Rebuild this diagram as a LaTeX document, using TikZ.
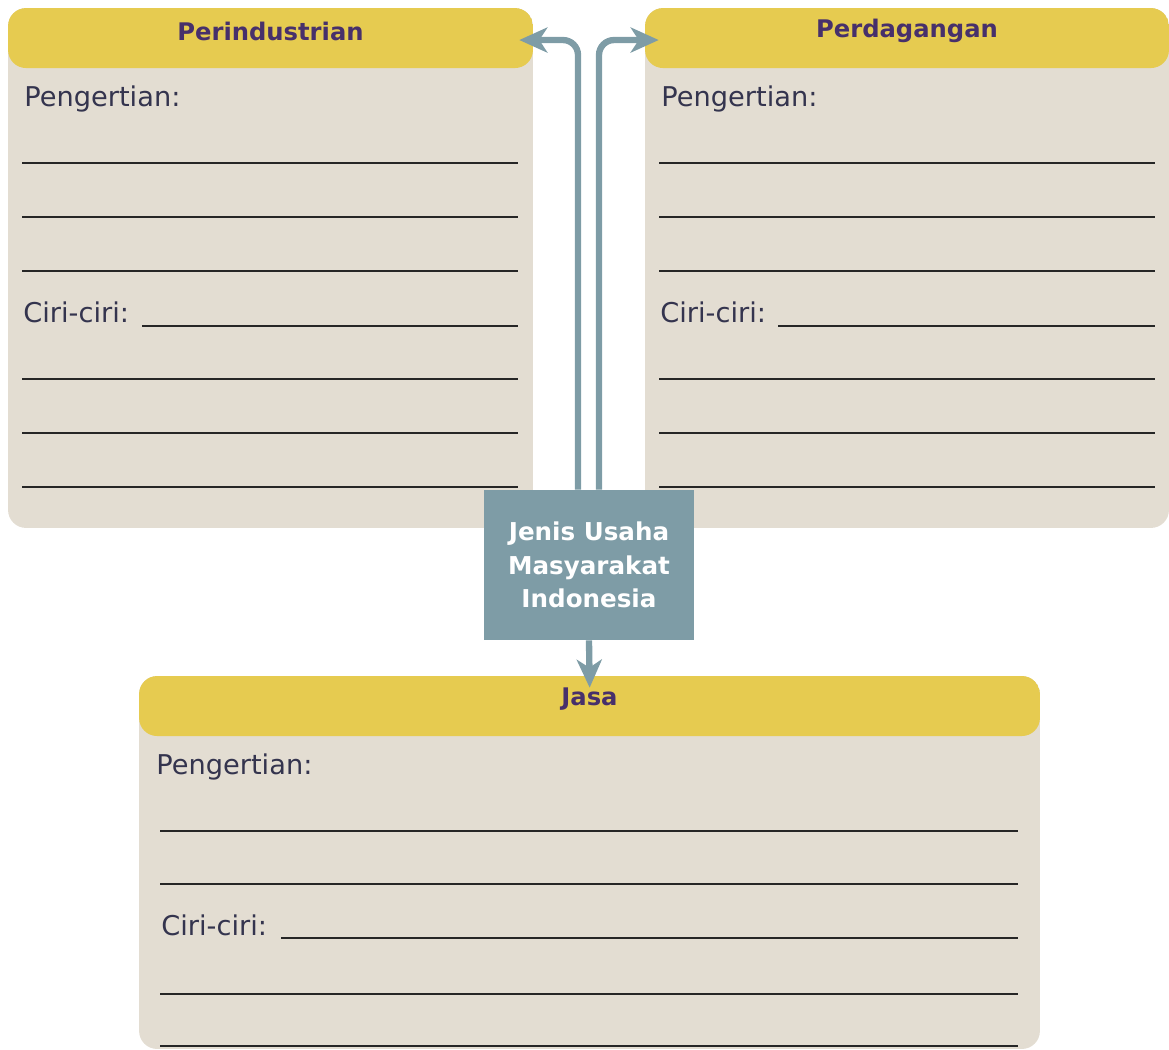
\documentclass[tikz,border=0pt]{standalone}
\usepackage{fontspec}
\setmainfont{DejaVu Sans}
\usetikzlibrary{arrows.meta, positioning}
\definecolor{headyellow}{HTML}{E6CB50}
\definecolor{bodybeige}{HTML}{E3DDD2}
\definecolor{hubblue}{HTML}{7E9CA6}
\definecolor{titlepurple}{HTML}{47306B}
\definecolor{inkblue}{HTML}{34344E}

\begin{document}
\begin{tikzpicture}[
        x=0.02cm, y=-0.02cm,
        panel/.style={rectangle, rounded corners=0.36cm, fill=bodybeige, inner sep=0pt,
            path picture={\fill[headyellow] (path picture bounding box.north west)
                rectangle ([yshift=-1.2cm]path picture bounding box.north east);}},
        headtext/.style={rectangle, inner sep=0pt, minimum height=0.8cm, text=titlepurple,
            font=\fontsize{13.8}{16}\selectfont\bfseries},
        field/.style={inner sep=0pt, anchor=base west, text=inkblue, font=\fontsize{15.5}{18}\selectfont},
        blank/.style={draw=black!85, line width=1.2pt},
        hub/.style={rectangle, fill=hubblue, text=white, align=center, minimum width=4.2cm,
            minimum height=3cm, font=\fontsize{14}{19}\selectfont\bfseries},
        link/.style={draw=hubblue, line width=3.6pt, rounded corners=0.3cm,
            -{Stealth[length=0.56cm, width=0.5cm, inset=0.16cm]}}
    ]
        \useasboundingbox (0,0) rectangle (1169,1050);

        % Perindustrian
        \node[panel, minimum width=10.5cm, minimum height=10.4cm] (indpanel) at (270.5,268) {};
        \node[headtext, minimum width=10.5cm, below=0.06cm of indpanel.north] (indhead) {Perindustrian};
        \node[field] (indpeng) at (24,107) {Pengertian:};
        \node[field] (indciri) at (23,323) {Ciri-ciri:};
        \draw[blank] (142,326) -- (518,326);
        \foreach \y in {163,217,271,379,433,487} {
            \draw[blank] (22,\y) -- (518,\y);
        }

        % Perdagangan
        \node[panel, minimum width=10.48cm, minimum height=10.4cm] (dagpanel) at (907,268) {};
        \node[headtext, minimum width=10.48cm, below=0.06cm of dagpanel.north] (daghead) {Perdagangan};
        \node[field] (dagpeng) at (661,107) {Pengertian:};
        \node[field] (dagciri) at (660,323) {Ciri-ciri:};
        \draw[blank] (778,326) -- (1155,326);
        \foreach \y in {163,217,271,379,433,487} {
            \draw[blank] (659,\y) -- (1155,\y);
        }

        % Jasa
        \node[panel, minimum width=18.02cm, minimum height=7.46cm] (jasapanel) at (589.5,862.5) {};
        \node[headtext, minimum width=18.02cm, below=0.06cm of jasapanel.north] (jasahead) {Jasa};
        \node[field] (jasapeng) at (156,774) {Pengertian:};
        \node[field] (jasaciri) at (161,935) {Ciri-ciri:};
        \draw[blank] (281,938) -- (1018,938);
        \foreach \y in {831,884,994,1046} {
            \draw[blank] (160,\y) -- (1018,\y);
        }

        % Centre box and arrows
        \node[hub] (jenis) at (589,565) {Jenis Usaha\\Masyarakat\\Indonesia};
        \draw[link, shorten >=-0.28cm] ([xshift=-0.22cm]jenis.north) |- ([yshift=-0.18cm]indhead.east);
        \draw[link, shorten >=-0.28cm] ([xshift=0.2cm]jenis.north) |- ([yshift=-0.18cm]daghead.west);
        \draw[link, rounded corners=0pt, shorten >=-0.24cm] (jenis.south) -- (jasapanel.north);
    \end{tikzpicture}
\end{document}
